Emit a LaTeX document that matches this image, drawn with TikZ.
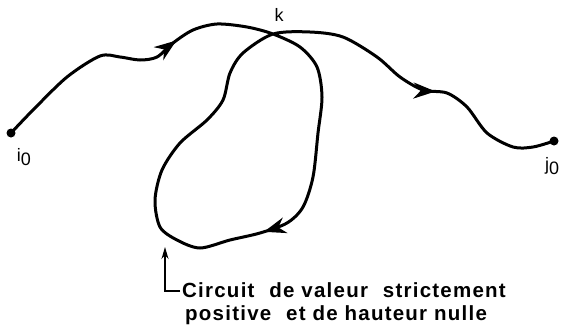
\documentclass[tikz,border=0pt]{standalone}
\usepackage{fontspec}
\setmainfont{Liberation Sans}
\newfontfamily\capfont[LetterSpace=6]{Liberation Sans}
\usepackage{tikz}
\usetikzlibrary{
  arrows.meta,
  positioning,
  decorations.markings
}
\newcommand{\sub}[1]{\raisebox{-4pt}{#1}}
\newcommand{\headtip}{\arrow{Stealth[length=22pt,width=16pt,inset=7pt]}}
\begin{document}
\begin{tikzpicture}[
  x=1pt,y=-1pt,
  dot/.style={circle,fill=black,inner sep=0pt,minimum size=9pt},
  lbl/.style={inner sep=0pt,font=\fontsize{18}{18}\selectfont},
  legend/.style={inner sep=0pt,anchor=base west,font=\capfont\bfseries\fontsize{20.5}{22}\selectfont},
  trail/.style={line width=3pt,line cap=round,line join=round,
    postaction={decorate},
    decoration={markings,
      mark=at position 0.165 with {\headtip},
      mark=at position 0.45 with {\headtip},
      mark=at position 0.885 with {\headtip}}},
  arr/.style={-{Stealth[length=12pt,width=7pt]},line width=1.4pt}
]
\useasboundingbox (0,0) rectangle (564,330);
\node[dot] (i0) at (11,133) {};
\node[dot] (j0) at (554,141) {};
\coordinate (k) at (273,34);
\node[lbl] (li) at (24,157) {i\sub{0}};
\node[lbl] (lj) at (552,166) {j\sub{0}};
\node[lbl] (lk) at (279,15) {k};
% chemin de i0 a j0 par le circuit
\draw[trail] plot[smooth] coordinates {
  (i0.center) (33,110) (67,77) (100,56) (120,57) (140,60) (157,57) (173,43)
  (193,30) (217,24) (247,27) (k)
  (300,47) (317,67) (322,97) (318,133) (313,177) (303,207) (287,223)
  (260,233) (230,240) (200,248) (177,240) (160,227) (155,200) (162,170)
  (180,143) (207,120) (223,100) (230,73) (243,53) (k)
  (310,32) (343,37) (377,57) (400,77) (423,90) (447,93) (467,107)
  (487,133) (513,147) (533,147) (j0.center)};
% legende
\node[legend] (c1) at (182,297) {Circuit\hspace{8pt} de valeur\hspace{8pt} strictement};
\node[legend] (c2) at (185,320) {positive\hspace{8pt} et de hauteur nulle};
\coordinate (ct) at (165,247);
\draw[arr] (c1.base west) ++(-2,-6) -| (ct);
\end{tikzpicture}
\end{document}
